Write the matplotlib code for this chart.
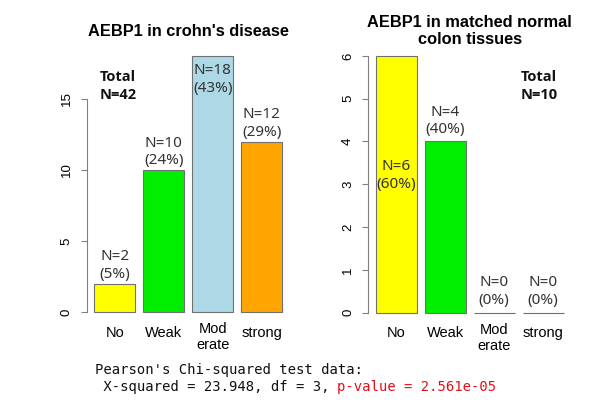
import matplotlib
matplotlib.use("Agg")
import matplotlib.pyplot as plt
import matplotlib.transforms as mtrans

# --- data ---
categories = ["No", "Weak", "Mod\nerate", "strong"]
bar_colors = ["#FFFF00", "#00EE00", "#ADD8E6", "#FFA500"]
crohn_counts = [2, 10, 18, 12]
normal_counts = [6, 4, 0, 0]
crohn_title = "AEBP1 in crohn's disease"
normal_title = "AEBP1 in matched normal\ncolon tissues"
stat_line1 = "Pearson's Chi-squared test data:"
stat_line2 = " X-squared = 23.948, df = 3, "
stat_pvalue = "p-value = 2.561e-05"

DPI = 100
fig = plt.figure(figsize=(6.11, 4.05), dpi=DPI)

label_font = ["Noto Sans", "DejaVu Sans"]
bold_font = ["Open Sans", "Lato", "DejaVu Sans"]
arial = ["Liberation Sans", "DejaVu Sans"]


def draw_panel(rect, counts, ylim, yticks, title, label_offsets, total_xy):
    ax = fig.add_axes(rect)
    x = [0.7 + 1.2 * i for i in range(len(counts))]
    ax.bar(x, counts, width=1.0, color=bar_colors, edgecolor="#707070", linewidth=0.8)
    ax.set_xlim(0.016, 4.984)
    ax.set_ylim(*ylim)
    ax.set_yticks(yticks)
    ax.set_yticklabels([str(t) for t in yticks], rotation=90, va="center",
                       family=arial, fontsize=9.5)
    ax.set_xticks([])
    for s in ["top", "right", "bottom"]:
        ax.spines[s].set_visible(False)
    ax.spines["left"].set_bounds(yticks[0], yticks[-1])
    ax.spines["left"].set_color("#808080")
    ax.tick_params(axis="y", length=4.3, color="#808080", pad=6)

    total = sum(counts)
    for xi, n, off in zip(x, counts, label_offsets):
        pct = round(100 * n / total)
        ax.annotate(f"N={n}\n({pct}%)", xy=(xi, n), xytext=(0, off * 72 / DPI),
                    textcoords="offset points", ha="center", va="center",
                    family=label_font, fontsize=11, color="#333333", linespacing=1.25)

    # category labels under the bars
    for xi, lab in zip(x, categories):
        nl = lab.count("\n") + 1
        dy = -10.5 if nl == 1 else -15
        tr = ax.get_xaxis_transform() + mtrans.ScaledTranslation(0, dy / DPI, fig.dpi_scale_trans)
        ax.text(xi, 0, lab, transform=tr, ha="center", va="center",
                family=arial, fontsize=10.5, linespacing=1.2)

    ax.text(0.5, 1.052, title, transform=ax.transAxes, ha="center", va="center",
            family=arial, fontsize=11.8, fontweight="bold", linespacing=1.2)
    ax.text(total_xy[0], total_xy[1], f"Total\nN={total}", transform=ax.transAxes,
            ha="left", va="center", family=bold_font, fontsize=10.5,
            fontweight="bold", linespacing=1.3, color="#111111")
    return ax


draw_panel([0.1421, 0.2044, 0.3318, 0.6815], crohn_counts, (-0.72, 18.72),
           [0, 5, 10, 15], crohn_title, [18, 18, -23, 18], (0.065, 0.856))
draw_panel([0.6028, 0.2025, 0.3318, 0.685], normal_counts, (-0.24, 6.24),
           [0, 1, 2, 3, 4, 5, 6], normal_title, [-120, 20.5, 21, 21], (0.753, 0.854))

# chi-squared test text (monospace, red p-value)
fs = 10
char_w = 0.602 * fs * DPI / 72
x0 = 95
fig.text(x0 / 611, 1 - 370 / 405, stat_line1, family="DejaVu Sans Mono",
         fontsize=fs, va="center", ha="left", color="#111111")
fig.text(x0 / 611, 1 - 386.7 / 405, stat_line2, family="DejaVu Sans Mono",
         fontsize=fs, va="center", ha="left", color="#111111")
fig.text((x0 + len(stat_line2) * char_w) / 611, 1 - 386.7 / 405, stat_pvalue,
         family="DejaVu Sans Mono", fontsize=fs, va="center", ha="left", color="#E0101A")

fig.savefig("out.png", dpi=DPI)
